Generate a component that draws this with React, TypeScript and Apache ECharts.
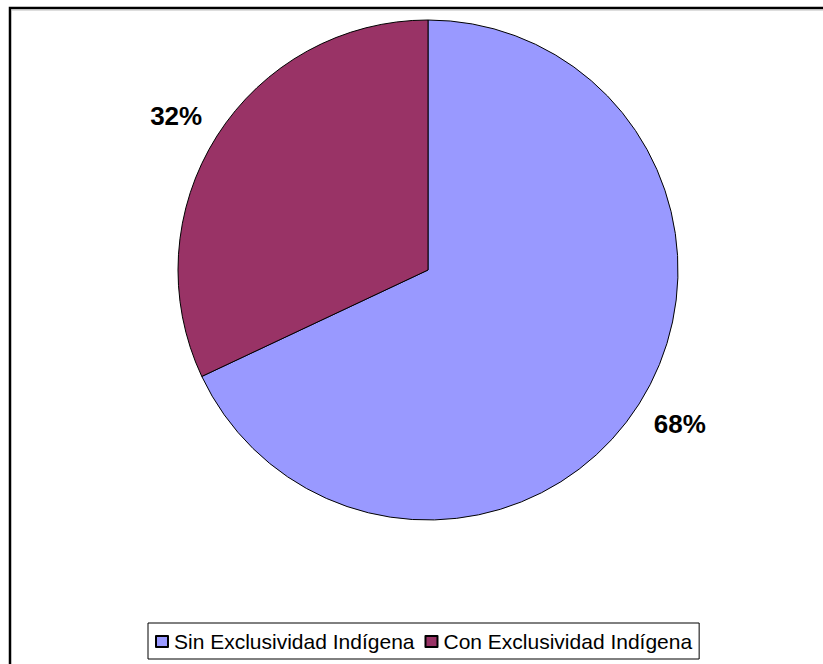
import React, { useEffect, useRef } from "react";
import * as echarts from "echarts";

const categories = ["Sin Exclusividad Indígena", "Con Exclusividad Indígena"];
const values = [68, 32];
const colors = ["#9999FF", "#993366"];

export default function App() {
  const ref = useRef<HTMLDivElement>(null);
  useEffect(() => {
    if (!ref.current) return;
    const chart = echarts.init(ref.current, null, { renderer: "svg" });
    chart.setOption({
      animation: false,
      backgroundColor: "#ffffff",
      graphic: [
        {
          type: "rect",
          shape: { x: 10, y: 8, width: 900, height: 700 },
          style: { fill: "none", stroke: "#000", lineWidth: 2.5 },
          z: 0,
        },
        {
          type: "line",
          shape: { x1: 11, y1: 10, x2: 900, y2: 10 },
          style: { stroke: "#bbbbbb", lineWidth: 1 },
          z: 0,
        },
      ],
      legend: {
        data: categories,
        left: 148,
        top: 623,
        orient: "horizontal",
        icon: "rect",
        itemWidth: 12,
        itemHeight: 11,
        itemGap: 10,
        padding: [8, 7, 7, 7],
        borderColor: "#000",
        borderWidth: 1,
        backgroundColor: "#fff",
        textStyle: {
          fontFamily: "Liberation Sans, Arial, sans-serif",
          fontSize: 21,
          color: "#000",
          padding: [0, 0, 0, 1],
        },
      },
      series: [
        {
          type: "pie",
          center: [428, 270],
          radius: 250,
          startAngle: 90,
          clockwise: true,
          data: categories.map((c, i) => ({
            name: c,
            value: values[i],
            itemStyle: { color: colors[i], borderColor: "#000", borderWidth: 1 },
          })),
          label: {
            show: true,
            position: "outside",
            formatter: (p: any) => `${p.value}%`,
            fontFamily: "Liberation Sans, Arial, sans-serif",
            fontWeight: "bold",
            fontSize: 26,
            color: "#000",
            distanceToLabelLine: -16.5,
          },
          labelLine: { show: false, length: 37, length2: 0 },
          emphasis: { disabled: true },
        },
      ],
    });
    return () => chart.dispose();
  }, []);
  return (
    <div
      ref={ref}
      style={{ position: "fixed", left: 0, top: 0, width: 823, height: 664 }}
    />
  );
}
